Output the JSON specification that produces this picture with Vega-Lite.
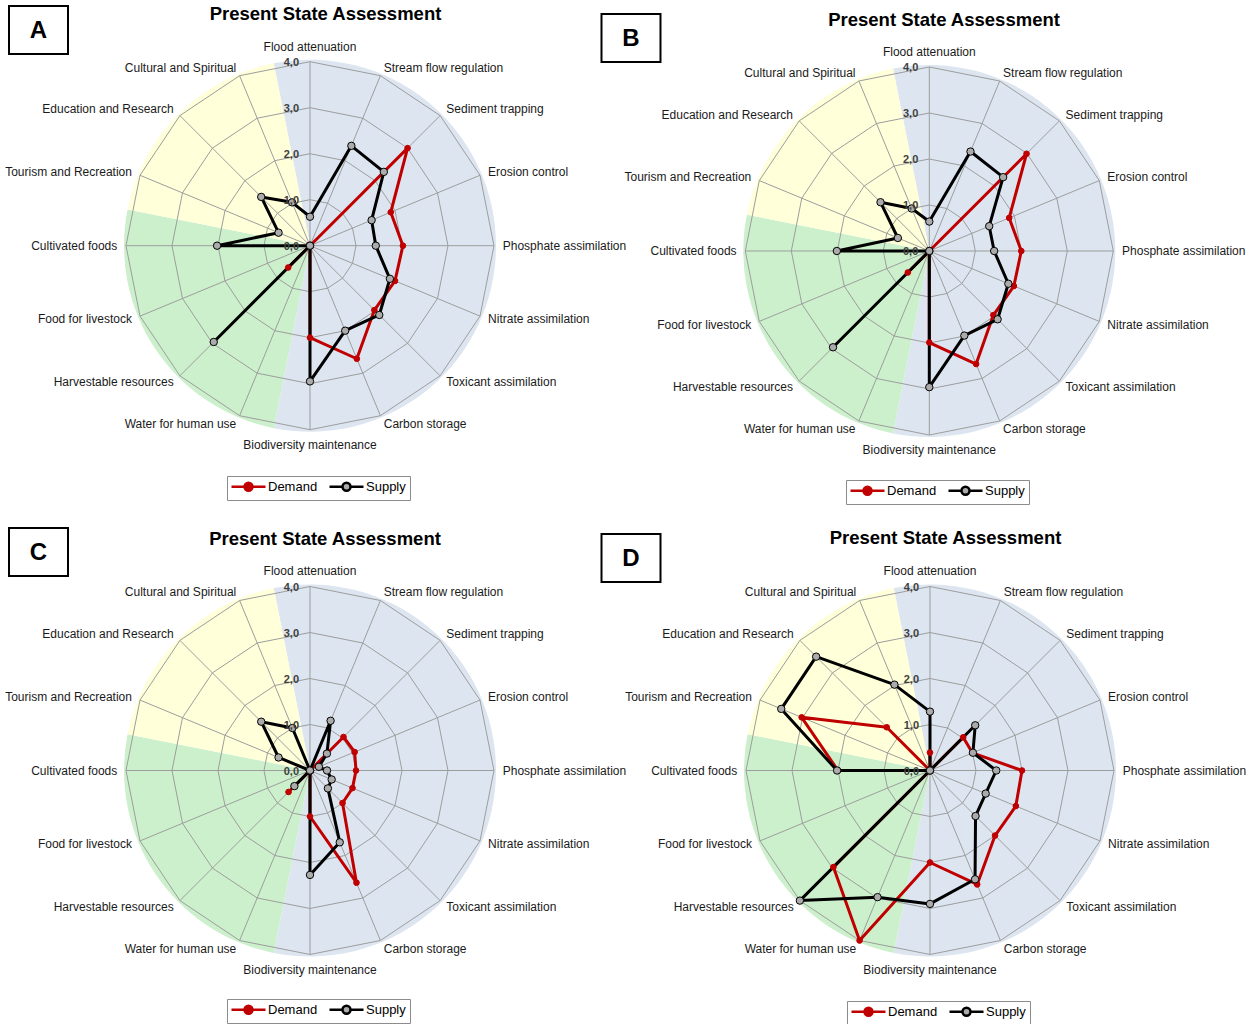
{
  "$schema": "https://vega.github.io/schema/vega-lite/v6.json",
  "padding": 0,
  "background": "white",
  "config": {
    "view": {"stroke": null},
    "font": "Liberation Sans",
    "axis": {"disable": true},
    "legend": {
      "labelFont": "Liberation Sans",
      "labelFontSize": 13,
      "labelColor": "#000000",
      "strokeColor": "#8c8c8c",
      "fillColor": "#ffffff",
      "padding": 4,
      "symbolSize": 100,
      "symbolStrokeWidth": 2.5,
      "symbolOffset": 11,
      "labelOffset": 13,
      "columnPadding": 6
    }
  },
  "datasets": {
    "svc": [
      {"service": "Flood attenuation", "idx": 0},
      {"service": "Stream flow regulation", "idx": 1},
      {"service": "Sediment trapping", "idx": 2},
      {"service": "Erosion control", "idx": 3},
      {"service": "Phosphate assimilation", "idx": 4},
      {"service": "Nitrate assimilation", "idx": 5},
      {"service": "Toxicant assimilation", "idx": 6},
      {"service": "Carbon storage", "idx": 7},
      {"service": "Biodiversity maintenance", "idx": 8},
      {"service": "Water for human use", "idx": 9},
      {"service": "Harvestable resources", "idx": 10},
      {"service": "Food for livestock", "idx": 11},
      {"service": "Cultivated foods", "idx": 12},
      {"service": "Tourism and Recreation", "idx": 13},
      {"service": "Education and Research", "idx": 14},
      {"service": "Cultural and Spiritual", "idx": 15}
    ],
    "sectors": [
      {"group": "Regulating", "n": 9, "k": 1},
      {"group": "Provisioning", "n": 4, "k": 2},
      {"group": "Cultural", "n": 3, "k": 3}
    ],
    "ticks": [{"level": 0}, {"level": 1}, {"level": 2}, {"level": 3}, {"level": 4}],
    "panels": [
      {"panel": "A", "title": "Present State Assessment"},
      {"panel": "B", "title": "Present State Assessment"},
      {"panel": "C", "title": "Present State Assessment"},
      {"panel": "D", "title": "Present State Assessment"}
    ],
    "vals": [
      {"panel": "A", "service": "Flood attenuation", "Demand": 0, "Supply": 0.63},
      {"panel": "A", "service": "Stream flow regulation", "Demand": 0, "Supply": 2.35},
      {"panel": "A", "service": "Sediment trapping", "Demand": 3.0, "Supply": 2.27},
      {"panel": "A", "service": "Erosion control", "Demand": 1.9, "Supply": 1.45},
      {"panel": "A", "service": "Phosphate assimilation", "Demand": 2.02, "Supply": 1.43},
      {"panel": "A", "service": "Nitrate assimilation", "Demand": 2.0, "Supply": 1.88},
      {"panel": "A", "service": "Toxicant assimilation", "Demand": 1.98, "Supply": 2.13},
      {"panel": "A", "service": "Carbon storage", "Demand": 2.66, "Supply": 2.0},
      {"panel": "A", "service": "Biodiversity maintenance", "Demand": 2.0, "Supply": 2.95},
      {"panel": "A", "service": "Water for human use", "Demand": 0, "Supply": 0},
      {"panel": "A", "service": "Harvestable resources", "Demand": 0.67, "Supply": 2.96},
      {"panel": "A", "service": "Food for livestock", "Demand": 0, "Supply": 0},
      {"panel": "A", "service": "Cultivated foods", "Demand": 0, "Supply": 2.02},
      {"panel": "A", "service": "Tourism and Recreation", "Demand": 0, "Supply": 0.74},
      {"panel": "A", "service": "Education and Research", "Demand": 0, "Supply": 1.5},
      {"panel": "A", "service": "Cultural and Spiritual", "Demand": 0, "Supply": 1.02},
      {"panel": "B", "service": "Flood attenuation", "Demand": 0, "Supply": 0.64},
      {"panel": "B", "service": "Stream flow regulation", "Demand": 0, "Supply": 2.34},
      {"panel": "B", "service": "Sediment trapping", "Demand": 2.99, "Supply": 2.27},
      {"panel": "B", "service": "Erosion control", "Demand": 1.88, "Supply": 1.41},
      {"panel": "B", "service": "Phosphate assimilation", "Demand": 2.0, "Supply": 1.41},
      {"panel": "B", "service": "Nitrate assimilation", "Demand": 1.99, "Supply": 1.86},
      {"panel": "B", "service": "Toxicant assimilation", "Demand": 1.97, "Supply": 2.1},
      {"panel": "B", "service": "Carbon storage", "Demand": 2.66, "Supply": 1.99},
      {"panel": "B", "service": "Biodiversity maintenance", "Demand": 1.99, "Supply": 2.96},
      {"panel": "B", "service": "Water for human use", "Demand": 0, "Supply": 0},
      {"panel": "B", "service": "Harvestable resources", "Demand": 0.66, "Supply": 2.96},
      {"panel": "B", "service": "Food for livestock", "Demand": 0, "Supply": 0},
      {"panel": "B", "service": "Cultivated foods", "Demand": 0, "Supply": 2.01},
      {"panel": "B", "service": "Tourism and Recreation", "Demand": 0, "Supply": 0.74},
      {"panel": "B", "service": "Education and Research", "Demand": 0, "Supply": 1.5},
      {"panel": "B", "service": "Cultural and Spiritual", "Demand": 0, "Supply": 1.0},
      {"panel": "C", "service": "Flood attenuation", "Demand": 0, "Supply": 0},
      {"panel": "C", "service": "Stream flow regulation", "Demand": 0, "Supply": 1.17},
      {"panel": "C", "service": "Sediment trapping", "Demand": 1.03, "Supply": 0.52},
      {"panel": "C", "service": "Erosion control", "Demand": 1.05, "Supply": 0.21},
      {"panel": "C", "service": "Phosphate assimilation", "Demand": 1.0, "Supply": 0.37},
      {"panel": "C", "service": "Nitrate assimilation", "Demand": 1.0, "Supply": 0.51},
      {"panel": "C", "service": "Toxicant assimilation", "Demand": 1.0, "Supply": 0.55},
      {"panel": "C", "service": "Carbon storage", "Demand": 2.64, "Supply": 1.69},
      {"panel": "C", "service": "Biodiversity maintenance", "Demand": 1.0, "Supply": 2.27},
      {"panel": "C", "service": "Water for human use", "Demand": 0, "Supply": 0},
      {"panel": "C", "service": "Harvestable resources", "Demand": 0.66, "Supply": 0.48},
      {"panel": "C", "service": "Food for livestock", "Demand": 0, "Supply": 0},
      {"panel": "C", "service": "Cultivated foods", "Demand": 0, "Supply": 0},
      {"panel": "C", "service": "Tourism and Recreation", "Demand": 0, "Supply": 0.74},
      {"panel": "C", "service": "Education and Research", "Demand": 0, "Supply": 1.5},
      {"panel": "C", "service": "Cultural and Spiritual", "Demand": 0, "Supply": 1.0},
      {"panel": "D", "service": "Flood attenuation", "Demand": 0.39, "Supply": 1.28},
      {"panel": "D", "service": "Stream flow regulation", "Demand": 0, "Supply": 0},
      {"panel": "D", "service": "Sediment trapping", "Demand": 1.02, "Supply": 1.39},
      {"panel": "D", "service": "Erosion control", "Demand": 1.0, "Supply": 1.01},
      {"panel": "D", "service": "Phosphate assimilation", "Demand": 2.0, "Supply": 1.44},
      {"panel": "D", "service": "Nitrate assimilation", "Demand": 2.02, "Supply": 1.31},
      {"panel": "D", "service": "Toxicant assimilation", "Demand": 2.0, "Supply": 1.4},
      {"panel": "D", "service": "Carbon storage", "Demand": 2.68, "Supply": 2.56},
      {"panel": "D", "service": "Biodiversity maintenance", "Demand": 2.0, "Supply": 2.9},
      {"panel": "D", "service": "Water for human use", "Demand": 4.0, "Supply": 2.98},
      {"panel": "D", "service": "Harvestable resources", "Demand": 2.97, "Supply": 4.0},
      {"panel": "D", "service": "Food for livestock", "Demand": 0, "Supply": 0},
      {"panel": "D", "service": "Cultivated foods", "Demand": 2.0, "Supply": 2.02},
      {"panel": "D", "service": "Tourism and Recreation", "Demand": 3.02, "Supply": 3.5},
      {"panel": "D", "service": "Education and Research", "Demand": 1.33, "Supply": 3.5},
      {"panel": "D", "service": "Cultural and Spiritual", "Demand": 0, "Supply": 2.02}
    ]
  },
  "columns": 2,
  "spacing": 0,
  "bounds": "flush",
  "resolve": {
    "scale": {"x": "independent", "y": "independent", "fill": "independent", "stroke": "independent"},
    "legend": {"fill": "independent", "stroke": "independent"}
  },
  "concat": [
    {
      "width": 619, "height": 512,
      "layer": [
        {"data": {"name": "sectors"},
         "mark": {"type": "arc", "outerRadius": 186},
         "encoding": {
           "x": {"datum": 0, "type": "quantitative", "scale": {"domain": [-6.7391, 6.7174], "nice": false, "zero": false}},
           "y": {"datum": 0, "type": "quantitative", "scale": {"domain": [-5.7891, 5.3413], "nice": false, "zero": false}},
           "theta": {"field": "n", "type": "quantitative", "stack": true, "scale": {"range": [-0.19635, 6.08684]}},
           "order": {"field": "k", "type": "quantitative"},
           "color": {"field": "group", "type": "nominal", "scale": {"domain": ["Regulating", "Provisioning", "Cultural"], "range": ["#dde6f0", "#ccf0cc", "#ffffda"]}, "legend": null}
         }},
        {"data": {"name": "svc"},
         "transform": [{"calculate": "[1,2,3,4]", "as": "lv"}, {"flatten": ["lv"]}, {"calculate": "datum.idx*PI/8", "as": "a"}, {"calculate": "datum.lv*sin(datum.a)", "as": "px"}, {"calculate": "datum.lv*cos(datum.a)", "as": "py"}],
         "mark": {"type": "line", "interpolate": "linear-closed", "stroke": "#9d9d9d", "strokeWidth": 1},
         "encoding": {"x": {"field": "px", "type": "quantitative"}, "y": {"field": "py", "type": "quantitative"}, "detail": {"field": "lv", "type": "nominal"}, "order": {"field": "idx", "type": "quantitative"}}},
        {"data": {"name": "svc"},
         "transform": [{"calculate": "datum.idx*PI/8", "as": "a"}, {"calculate": "0", "as": "z"}, {"calculate": "4*sin(datum.a)", "as": "sx"}, {"calculate": "4*cos(datum.a)", "as": "sy"}, {"calculate": "abs(sin(datum.a)) < 0.1 ? 4.33 : 4.19", "as": "lr"}, {"calculate": "datum.lr*sin(datum.a)", "as": "lx"}, {"calculate": "datum.lr*cos(datum.a)", "as": "ly"}],
         "layer": [
           {"mark": {"type": "rule", "stroke": "#9d9d9d", "strokeWidth": 1},
            "encoding": {"x": {"field": "z", "type": "quantitative"}, "y": {"field": "z", "type": "quantitative"}, "x2": {"field": "sx"}, "y2": {"field": "sy"}}},
           {"mark": {"type": "text", "fontSize": 12, "fill": "#1a1a1a", "baseline": "middle", "align": {"expr": "datum.lx > 0.3 ? 'left' : (datum.lx < -0.3 ? 'right' : 'center')"}},
            "encoding": {"x": {"field": "lx", "type": "quantitative"}, "y": {"field": "ly", "type": "quantitative"}, "text": {"field": "service"}}}
         ]},
        {"data": {"name": "vals"},
         "transform": [{"filter": "datum.panel == 'A'"}, {"fold": ["Demand", "Supply"], "as": ["series", "value"]}, {"lookup": "service", "from": {"data": {"name": "svc"}, "key": "service", "fields": ["idx"]}}, {"calculate": "datum.idx*PI/8", "as": "a"}, {"calculate": "datum.value*sin(datum.a)", "as": "px"}, {"calculate": "datum.value*cos(datum.a)", "as": "py"}],
         "layer": [
           {"mark": {"type": "line", "interpolate": "linear-closed", "strokeWidth": 3, "strokeJoin": "round"},
            "encoding": {"x": {"field": "px", "type": "quantitative"}, "y": {"field": "py", "type": "quantitative"}, "order": {"field": "idx", "type": "quantitative"}, "stroke": {"field": "series", "type": "nominal"}}},
           {"transform": [{"filter": "datum.series == 'Demand'"}],
            "mark": {"type": "point", "filled": true, "opacity": 1, "size": 32, "strokeWidth": 1},
            "encoding": {"x": {"field": "px", "type": "quantitative"}, "y": {"field": "py", "type": "quantitative"}, "fill": {"field": "series", "type": "nominal"}, "stroke": {"field": "series", "type": "nominal"}}},
           {"transform": [{"filter": "datum.series == 'Supply'"}],
            "mark": {"type": "point", "filled": true, "opacity": 1, "size": 55, "strokeWidth": 1},
            "encoding": {"x": {"field": "px", "type": "quantitative"}, "y": {"field": "py", "type": "quantitative"},
              "fill": {"field": "series", "type": "nominal", "scale": {"domain": ["Demand", "Supply"], "range": ["#c00000", "#ababab"]}, "legend": {"orient": "none", "legendX": 227, "legendY": 476, "direction": "horizontal", "title": null, "symbolType": "M-3.4,0L-0.8,0M0.8,0L3.4,0M-0.8,0A0.8,0.8,0,1,1,0.8,0A0.8,0.8,0,1,1,-0.8,0Z"}},
              "stroke": {"field": "series", "type": "nominal", "scale": {"domain": ["Demand", "Supply"], "range": ["#c00000", "#000000"]}, "legend": {"orient": "none", "legendX": 227, "legendY": 476, "direction": "horizontal", "title": null, "symbolType": "M-3.4,0L-0.8,0M0.8,0L3.4,0M-0.8,0A0.8,0.8,0,1,1,0.8,0A0.8,0.8,0,1,1,-0.8,0Z"}}}}
         ]},
        {"data": {"name": "ticks"},
         "transform": [{"calculate": "replace(format(datum.level, '.1f'), '.', ',')", "as": "lab"}, {"calculate": "0", "as": "z"}],
         "mark": {"type": "text", "align": "right", "baseline": "middle", "dx": -11, "dy": 1, "fontSize": 11, "fontWeight": "bold", "fill": "#404040"},
         "encoding": {"x": {"field": "z", "type": "quantitative"}, "y": {"field": "level", "type": "quantitative"}, "text": {"field": "lab"}}},
        {"data": {"name": "panels"},
         "transform": [{"filter": "datum.panel == 'A'"}],
         "layer": [
           {"mark": {"type": "text", "fontSize": 18.5, "fontWeight": "bold", "baseline": "middle", "align": "center", "fill": "#000000"},
            "encoding": {"x": {"datum": 0.337, "type": "quantitative"}, "y": {"datum": 5.03, "type": "quantitative"}, "text": {"field": "title"}}},
           {"mark": {"type": "point", "shape": "M-1.229,-1H1.229V1H-1.229Z", "size": 2304, "filled": false, "opacity": 1, "stroke": "#000000", "strokeWidth": 2},
            "encoding": {"x": {"datum": -5.902, "type": "quantitative"}, "y": {"datum": 4.689, "type": "quantitative"}}},
           {"mark": {"type": "text", "fontSize": 24, "fontWeight": "bold", "baseline": "middle", "align": "center", "fill": "#000000", "dy": 1},
            "encoding": {"x": {"datum": -5.902, "type": "quantitative"}, "y": {"datum": 4.689, "type": "quantitative"}, "text": {"field": "panel"}}}
         ]}
      ]
    },
    {
      "width": 619, "height": 512,
      "layer": [
        {"data": {"name": "sectors"},
         "mark": {"type": "arc", "outerRadius": 186},
         "encoding": {
           "x": {"datum": 0, "type": "quantitative", "scale": {"domain": [-6.7457, 6.7109], "nice": false, "zero": false}},
           "y": {"datum": 0, "type": "quantitative", "scale": {"domain": [-5.6739, 5.4565], "nice": false, "zero": false}},
           "theta": {"field": "n", "type": "quantitative", "stack": true, "scale": {"range": [-0.19635, 6.08684]}},
           "order": {"field": "k", "type": "quantitative"},
           "color": {"field": "group", "type": "nominal", "scale": {"domain": ["Regulating", "Provisioning", "Cultural"], "range": ["#dde6f0", "#ccf0cc", "#ffffda"]}, "legend": null}
         }},
        {"data": {"name": "svc"},
         "transform": [{"calculate": "[1,2,3,4]", "as": "lv"}, {"flatten": ["lv"]}, {"calculate": "datum.idx*PI/8", "as": "a"}, {"calculate": "datum.lv*sin(datum.a)", "as": "px"}, {"calculate": "datum.lv*cos(datum.a)", "as": "py"}],
         "mark": {"type": "line", "interpolate": "linear-closed", "stroke": "#9d9d9d", "strokeWidth": 1},
         "encoding": {"x": {"field": "px", "type": "quantitative"}, "y": {"field": "py", "type": "quantitative"}, "detail": {"field": "lv", "type": "nominal"}, "order": {"field": "idx", "type": "quantitative"}}},
        {"data": {"name": "svc"},
         "transform": [{"calculate": "datum.idx*PI/8", "as": "a"}, {"calculate": "0", "as": "z"}, {"calculate": "4*sin(datum.a)", "as": "sx"}, {"calculate": "4*cos(datum.a)", "as": "sy"}, {"calculate": "abs(sin(datum.a)) < 0.1 ? 4.33 : 4.19", "as": "lr"}, {"calculate": "datum.lr*sin(datum.a)", "as": "lx"}, {"calculate": "datum.lr*cos(datum.a)", "as": "ly"}],
         "layer": [
           {"mark": {"type": "rule", "stroke": "#9d9d9d", "strokeWidth": 1},
            "encoding": {"x": {"field": "z", "type": "quantitative"}, "y": {"field": "z", "type": "quantitative"}, "x2": {"field": "sx"}, "y2": {"field": "sy"}}},
           {"mark": {"type": "text", "fontSize": 12, "fill": "#1a1a1a", "baseline": "middle", "align": {"expr": "datum.lx > 0.3 ? 'left' : (datum.lx < -0.3 ? 'right' : 'center')"}},
            "encoding": {"x": {"field": "lx", "type": "quantitative"}, "y": {"field": "ly", "type": "quantitative"}, "text": {"field": "service"}}}
         ]},
        {"data": {"name": "vals"},
         "transform": [{"filter": "datum.panel == 'B'"}, {"fold": ["Demand", "Supply"], "as": ["series", "value"]}, {"lookup": "service", "from": {"data": {"name": "svc"}, "key": "service", "fields": ["idx"]}}, {"calculate": "datum.idx*PI/8", "as": "a"}, {"calculate": "datum.value*sin(datum.a)", "as": "px"}, {"calculate": "datum.value*cos(datum.a)", "as": "py"}],
         "layer": [
           {"mark": {"type": "line", "interpolate": "linear-closed", "strokeWidth": 3, "strokeJoin": "round"},
            "encoding": {"x": {"field": "px", "type": "quantitative"}, "y": {"field": "py", "type": "quantitative"}, "order": {"field": "idx", "type": "quantitative"}, "stroke": {"field": "series", "type": "nominal"}}},
           {"transform": [{"filter": "datum.series == 'Demand'"}],
            "mark": {"type": "point", "filled": true, "opacity": 1, "size": 32, "strokeWidth": 1},
            "encoding": {"x": {"field": "px", "type": "quantitative"}, "y": {"field": "py", "type": "quantitative"}, "fill": {"field": "series", "type": "nominal"}, "stroke": {"field": "series", "type": "nominal"}}},
           {"transform": [{"filter": "datum.series == 'Supply'"}],
            "mark": {"type": "point", "filled": true, "opacity": 1, "size": 55, "strokeWidth": 1},
            "encoding": {"x": {"field": "px", "type": "quantitative"}, "y": {"field": "py", "type": "quantitative"},
              "fill": {"field": "series", "type": "nominal", "scale": {"domain": ["Demand", "Supply"], "range": ["#c00000", "#ababab"]}, "legend": {"orient": "none", "legendX": 227, "legendY": 480, "direction": "horizontal", "title": null, "symbolType": "M-3.4,0L-0.8,0M0.8,0L3.4,0M-0.8,0A0.8,0.8,0,1,1,0.8,0A0.8,0.8,0,1,1,-0.8,0Z"}},
              "stroke": {"field": "series", "type": "nominal", "scale": {"domain": ["Demand", "Supply"], "range": ["#c00000", "#000000"]}, "legend": {"orient": "none", "legendX": 227, "legendY": 480, "direction": "horizontal", "title": null, "symbolType": "M-3.4,0L-0.8,0M0.8,0L3.4,0M-0.8,0A0.8,0.8,0,1,1,0.8,0A0.8,0.8,0,1,1,-0.8,0Z"}}}}
         ]},
        {"data": {"name": "ticks"},
         "transform": [{"calculate": "replace(format(datum.level, '.1f'), '.', ',')", "as": "lab"}, {"calculate": "0", "as": "z"}],
         "mark": {"type": "text", "align": "right", "baseline": "middle", "dx": -11, "dy": 1, "fontSize": 11, "fontWeight": "bold", "fill": "#404040"},
         "encoding": {"x": {"field": "z", "type": "quantitative"}, "y": {"field": "level", "type": "quantitative"}, "text": {"field": "lab"}}},
        {"data": {"name": "panels"},
         "transform": [{"filter": "datum.panel == 'B'"}],
         "layer": [
           {"mark": {"type": "text", "fontSize": 18.5, "fontWeight": "bold", "baseline": "middle", "align": "center", "fill": "#000000"},
            "encoding": {"x": {"datum": 0.32, "type": "quantitative"}, "y": {"datum": 5.02, "type": "quantitative"}, "text": {"field": "title"}}},
           {"mark": {"type": "point", "shape": "M-1.229,-1H1.229V1H-1.229Z", "size": 2304, "filled": false, "opacity": 1, "stroke": "#000000", "strokeWidth": 2},
            "encoding": {"x": {"datum": -6.485, "type": "quantitative"}, "y": {"datum": 4.63, "type": "quantitative"}}},
           {"mark": {"type": "text", "fontSize": 24, "fontWeight": "bold", "baseline": "middle", "align": "center", "fill": "#000000", "dy": 1},
            "encoding": {"x": {"datum": -6.485, "type": "quantitative"}, "y": {"datum": 4.63, "type": "quantitative"}, "text": {"field": "panel"}}}
         ]}
      ]
    },
    {
      "width": 619, "height": 512,
      "layer": [
        {"data": {"name": "sectors"},
         "mark": {"type": "arc", "outerRadius": 186},
         "encoding": {
           "x": {"datum": 0, "type": "quantitative", "scale": {"domain": [-6.7391, 6.7174], "nice": false, "zero": false}},
           "y": {"datum": 0, "type": "quantitative", "scale": {"domain": [-5.5109, 5.6196], "nice": false, "zero": false}},
           "theta": {"field": "n", "type": "quantitative", "stack": true, "scale": {"range": [-0.19635, 6.08684]}},
           "order": {"field": "k", "type": "quantitative"},
           "color": {"field": "group", "type": "nominal", "scale": {"domain": ["Regulating", "Provisioning", "Cultural"], "range": ["#dde6f0", "#ccf0cc", "#ffffda"]}, "legend": null}
         }},
        {"data": {"name": "svc"},
         "transform": [{"calculate": "[1,2,3,4]", "as": "lv"}, {"flatten": ["lv"]}, {"calculate": "datum.idx*PI/8", "as": "a"}, {"calculate": "datum.lv*sin(datum.a)", "as": "px"}, {"calculate": "datum.lv*cos(datum.a)", "as": "py"}],
         "mark": {"type": "line", "interpolate": "linear-closed", "stroke": "#9d9d9d", "strokeWidth": 1},
         "encoding": {"x": {"field": "px", "type": "quantitative"}, "y": {"field": "py", "type": "quantitative"}, "detail": {"field": "lv", "type": "nominal"}, "order": {"field": "idx", "type": "quantitative"}}},
        {"data": {"name": "svc"},
         "transform": [{"calculate": "datum.idx*PI/8", "as": "a"}, {"calculate": "0", "as": "z"}, {"calculate": "4*sin(datum.a)", "as": "sx"}, {"calculate": "4*cos(datum.a)", "as": "sy"}, {"calculate": "abs(sin(datum.a)) < 0.1 ? 4.33 : 4.19", "as": "lr"}, {"calculate": "datum.lr*sin(datum.a)", "as": "lx"}, {"calculate": "datum.lr*cos(datum.a)", "as": "ly"}],
         "layer": [
           {"mark": {"type": "rule", "stroke": "#9d9d9d", "strokeWidth": 1},
            "encoding": {"x": {"field": "z", "type": "quantitative"}, "y": {"field": "z", "type": "quantitative"}, "x2": {"field": "sx"}, "y2": {"field": "sy"}}},
           {"mark": {"type": "text", "fontSize": 12, "fill": "#1a1a1a", "baseline": "middle", "align": {"expr": "datum.lx > 0.3 ? 'left' : (datum.lx < -0.3 ? 'right' : 'center')"}},
            "encoding": {"x": {"field": "lx", "type": "quantitative"}, "y": {"field": "ly", "type": "quantitative"}, "text": {"field": "service"}}}
         ]},
        {"data": {"name": "vals"},
         "transform": [{"filter": "datum.panel == 'C'"}, {"fold": ["Demand", "Supply"], "as": ["series", "value"]}, {"lookup": "service", "from": {"data": {"name": "svc"}, "key": "service", "fields": ["idx"]}}, {"calculate": "datum.idx*PI/8", "as": "a"}, {"calculate": "datum.value*sin(datum.a)", "as": "px"}, {"calculate": "datum.value*cos(datum.a)", "as": "py"}],
         "layer": [
           {"mark": {"type": "line", "interpolate": "linear-closed", "strokeWidth": 3, "strokeJoin": "round"},
            "encoding": {"x": {"field": "px", "type": "quantitative"}, "y": {"field": "py", "type": "quantitative"}, "order": {"field": "idx", "type": "quantitative"}, "stroke": {"field": "series", "type": "nominal"}}},
           {"transform": [{"filter": "datum.series == 'Demand'"}],
            "mark": {"type": "point", "filled": true, "opacity": 1, "size": 32, "strokeWidth": 1},
            "encoding": {"x": {"field": "px", "type": "quantitative"}, "y": {"field": "py", "type": "quantitative"}, "fill": {"field": "series", "type": "nominal"}, "stroke": {"field": "series", "type": "nominal"}}},
           {"transform": [{"filter": "datum.series == 'Supply'"}],
            "mark": {"type": "point", "filled": true, "opacity": 1, "size": 55, "strokeWidth": 1},
            "encoding": {"x": {"field": "px", "type": "quantitative"}, "y": {"field": "py", "type": "quantitative"},
              "fill": {"field": "series", "type": "nominal", "scale": {"domain": ["Demand", "Supply"], "range": ["#c00000", "#ababab"]}, "legend": {"orient": "none", "legendX": 227, "legendY": 487, "direction": "horizontal", "title": null, "symbolType": "M-3.4,0L-0.8,0M0.8,0L3.4,0M-0.8,0A0.8,0.8,0,1,1,0.8,0A0.8,0.8,0,1,1,-0.8,0Z"}},
              "stroke": {"field": "series", "type": "nominal", "scale": {"domain": ["Demand", "Supply"], "range": ["#c00000", "#000000"]}, "legend": {"orient": "none", "legendX": 227, "legendY": 487, "direction": "horizontal", "title": null, "symbolType": "M-3.4,0L-0.8,0M0.8,0L3.4,0M-0.8,0A0.8,0.8,0,1,1,0.8,0A0.8,0.8,0,1,1,-0.8,0Z"}}}}
         ]},
        {"data": {"name": "ticks"},
         "transform": [{"calculate": "replace(format(datum.level, '.1f'), '.', ',')", "as": "lab"}, {"calculate": "0", "as": "z"}],
         "mark": {"type": "text", "align": "right", "baseline": "middle", "dx": -11, "dy": 1, "fontSize": 11, "fontWeight": "bold", "fill": "#404040"},
         "encoding": {"x": {"field": "z", "type": "quantitative"}, "y": {"field": "level", "type": "quantitative"}, "text": {"field": "lab"}}},
        {"data": {"name": "panels"},
         "transform": [{"filter": "datum.panel == 'C'"}],
         "layer": [
           {"mark": {"type": "text", "fontSize": 18.5, "fontWeight": "bold", "baseline": "middle", "align": "center", "fill": "#000000"},
            "encoding": {"x": {"datum": 0.326, "type": "quantitative"}, "y": {"datum": 5.04, "type": "quantitative"}, "text": {"field": "title"}}},
           {"mark": {"type": "point", "shape": "M-1.229,-1H1.229V1H-1.229Z", "size": 2304, "filled": false, "opacity": 1, "stroke": "#000000", "strokeWidth": 2},
            "encoding": {"x": {"datum": -5.902, "type": "quantitative"}, "y": {"datum": 4.75, "type": "quantitative"}}},
           {"mark": {"type": "text", "fontSize": 24, "fontWeight": "bold", "baseline": "middle", "align": "center", "fill": "#000000", "dy": 1},
            "encoding": {"x": {"datum": -5.902, "type": "quantitative"}, "y": {"datum": 4.75, "type": "quantitative"}, "text": {"field": "panel"}}}
         ]}
      ]
    },
    {
      "width": 619, "height": 512,
      "layer": [
        {"data": {"name": "sectors"},
         "mark": {"type": "arc", "outerRadius": 186},
         "encoding": {
           "x": {"datum": 0, "type": "quantitative", "scale": {"domain": [-6.7609, 6.6957], "nice": false, "zero": false}},
           "y": {"datum": 0, "type": "quantitative", "scale": {"domain": [-5.5109, 5.6196], "nice": false, "zero": false}},
           "theta": {"field": "n", "type": "quantitative", "stack": true, "scale": {"range": [-0.19635, 6.08684]}},
           "order": {"field": "k", "type": "quantitative"},
           "color": {"field": "group", "type": "nominal", "scale": {"domain": ["Regulating", "Provisioning", "Cultural"], "range": ["#dde6f0", "#ccf0cc", "#ffffda"]}, "legend": null}
         }},
        {"data": {"name": "svc"},
         "transform": [{"calculate": "[1,2,3,4]", "as": "lv"}, {"flatten": ["lv"]}, {"calculate": "datum.idx*PI/8", "as": "a"}, {"calculate": "datum.lv*sin(datum.a)", "as": "px"}, {"calculate": "datum.lv*cos(datum.a)", "as": "py"}],
         "mark": {"type": "line", "interpolate": "linear-closed", "stroke": "#9d9d9d", "strokeWidth": 1},
         "encoding": {"x": {"field": "px", "type": "quantitative"}, "y": {"field": "py", "type": "quantitative"}, "detail": {"field": "lv", "type": "nominal"}, "order": {"field": "idx", "type": "quantitative"}}},
        {"data": {"name": "svc"},
         "transform": [{"calculate": "datum.idx*PI/8", "as": "a"}, {"calculate": "0", "as": "z"}, {"calculate": "4*sin(datum.a)", "as": "sx"}, {"calculate": "4*cos(datum.a)", "as": "sy"}, {"calculate": "abs(sin(datum.a)) < 0.1 ? 4.33 : 4.19", "as": "lr"}, {"calculate": "datum.lr*sin(datum.a)", "as": "lx"}, {"calculate": "datum.lr*cos(datum.a)", "as": "ly"}],
         "layer": [
           {"mark": {"type": "rule", "stroke": "#9d9d9d", "strokeWidth": 1},
            "encoding": {"x": {"field": "z", "type": "quantitative"}, "y": {"field": "z", "type": "quantitative"}, "x2": {"field": "sx"}, "y2": {"field": "sy"}}},
           {"mark": {"type": "text", "fontSize": 12, "fill": "#1a1a1a", "baseline": "middle", "align": {"expr": "datum.lx > 0.3 ? 'left' : (datum.lx < -0.3 ? 'right' : 'center')"}},
            "encoding": {"x": {"field": "lx", "type": "quantitative"}, "y": {"field": "ly", "type": "quantitative"}, "text": {"field": "service"}}}
         ]},
        {"data": {"name": "vals"},
         "transform": [{"filter": "datum.panel == 'D'"}, {"fold": ["Demand", "Supply"], "as": ["series", "value"]}, {"lookup": "service", "from": {"data": {"name": "svc"}, "key": "service", "fields": ["idx"]}}, {"calculate": "datum.idx*PI/8", "as": "a"}, {"calculate": "datum.value*sin(datum.a)", "as": "px"}, {"calculate": "datum.value*cos(datum.a)", "as": "py"}],
         "layer": [
           {"mark": {"type": "line", "interpolate": "linear-closed", "strokeWidth": 3, "strokeJoin": "round"},
            "encoding": {"x": {"field": "px", "type": "quantitative"}, "y": {"field": "py", "type": "quantitative"}, "order": {"field": "idx", "type": "quantitative"}, "stroke": {"field": "series", "type": "nominal"}}},
           {"transform": [{"filter": "datum.series == 'Demand'"}],
            "mark": {"type": "point", "filled": true, "opacity": 1, "size": 32, "strokeWidth": 1},
            "encoding": {"x": {"field": "px", "type": "quantitative"}, "y": {"field": "py", "type": "quantitative"}, "fill": {"field": "series", "type": "nominal"}, "stroke": {"field": "series", "type": "nominal"}}},
           {"transform": [{"filter": "datum.series == 'Supply'"}],
            "mark": {"type": "point", "filled": true, "opacity": 1, "size": 55, "strokeWidth": 1},
            "encoding": {"x": {"field": "px", "type": "quantitative"}, "y": {"field": "py", "type": "quantitative"},
              "fill": {"field": "series", "type": "nominal", "scale": {"domain": ["Demand", "Supply"], "range": ["#c00000", "#ababab"]}, "legend": {"orient": "none", "legendX": 228, "legendY": 489, "direction": "horizontal", "title": null, "symbolType": "M-3.4,0L-0.8,0M0.8,0L3.4,0M-0.8,0A0.8,0.8,0,1,1,0.8,0A0.8,0.8,0,1,1,-0.8,0Z"}},
              "stroke": {"field": "series", "type": "nominal", "scale": {"domain": ["Demand", "Supply"], "range": ["#c00000", "#000000"]}, "legend": {"orient": "none", "legendX": 228, "legendY": 489, "direction": "horizontal", "title": null, "symbolType": "M-3.4,0L-0.8,0M0.8,0L3.4,0M-0.8,0A0.8,0.8,0,1,1,0.8,0A0.8,0.8,0,1,1,-0.8,0Z"}}}}
         ]},
        {"data": {"name": "ticks"},
         "transform": [{"calculate": "replace(format(datum.level, '.1f'), '.', ',')", "as": "lab"}, {"calculate": "0", "as": "z"}],
         "mark": {"type": "text", "align": "right", "baseline": "middle", "dx": -11, "dy": 1, "fontSize": 11, "fontWeight": "bold", "fill": "#404040"},
         "encoding": {"x": {"field": "z", "type": "quantitative"}, "y": {"field": "level", "type": "quantitative"}, "text": {"field": "lab"}}},
        {"data": {"name": "panels"},
         "transform": [{"filter": "datum.panel == 'D'"}],
         "layer": [
           {"mark": {"type": "text", "fontSize": 18.5, "fontWeight": "bold", "baseline": "middle", "align": "center", "fill": "#000000"},
            "encoding": {"x": {"datum": 0.337, "type": "quantitative"}, "y": {"datum": 5.06, "type": "quantitative"}, "text": {"field": "title"}}},
           {"mark": {"type": "point", "shape": "M-1.229,-1H1.229V1H-1.229Z", "size": 2304, "filled": false, "opacity": 1, "stroke": "#000000", "strokeWidth": 2},
            "encoding": {"x": {"datum": -6.5, "type": "quantitative"}, "y": {"datum": 4.62, "type": "quantitative"}}},
           {"mark": {"type": "text", "fontSize": 24, "fontWeight": "bold", "baseline": "middle", "align": "center", "fill": "#000000", "dy": 1},
            "encoding": {"x": {"datum": -6.5, "type": "quantitative"}, "y": {"datum": 4.62, "type": "quantitative"}, "text": {"field": "panel"}}}
         ]}
      ]
    }
  ]
}
